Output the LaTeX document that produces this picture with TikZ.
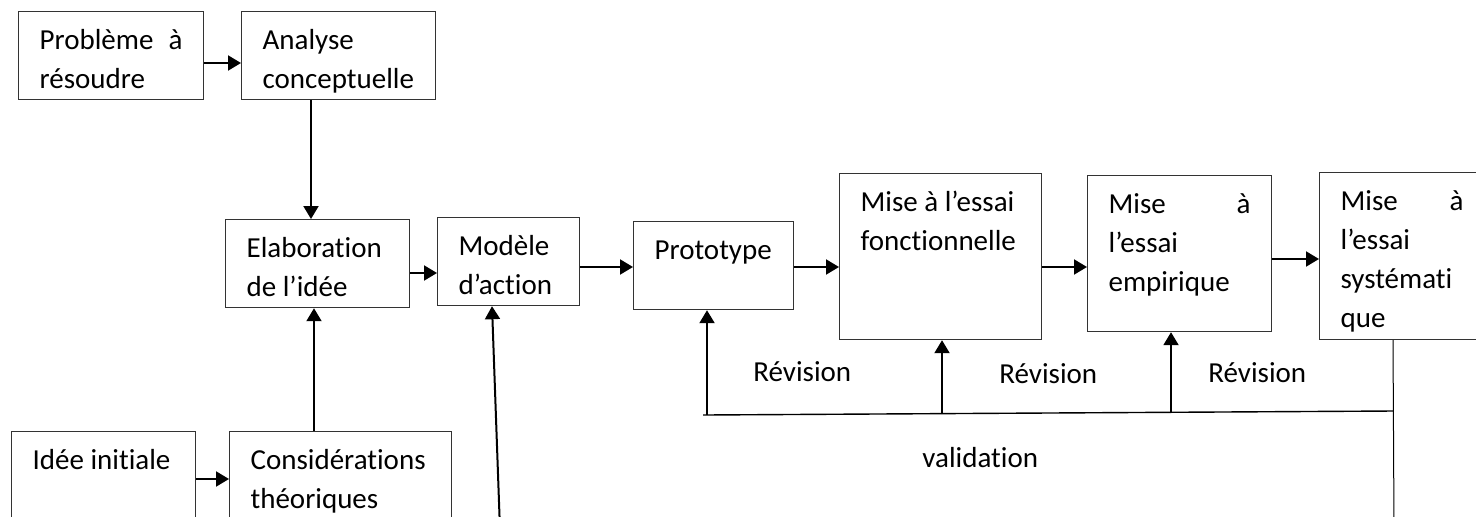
\documentclass[tikz,border=0pt]{standalone}
\usepackage{fontspec}
\setmainfont{Carlito}[Ligatures={NoCommon,NoContextual}]
\usetikzlibrary{arrows.meta}

\begin{document}
\begin{tikzpicture}[x=0.5pt, y=-0.5pt,
        box/.style={draw=black!80, line width=0.6pt, anchor=north west, align=flush left,
            inner xsep=10.5pt, inner ysep=0pt, text height=19pt,
            font=\fontsize{14.5}{19.4}\selectfont},
        lbl/.style={anchor=base west, inner sep=0pt, font=\fontsize{14.5}{19.4}\selectfont},
        >={Triangle[width=7.5pt,length=6.5pt]},
        arr/.style={->, line width=1pt},
        thin line/.style={line width=0.7pt}]
        \useasboundingbox (0,0) rectangle (1476,516);
        \clip (0,0) rectangle (1476,516);

        \node[box, text width=71.5pt, text depth=25pt] (probleme) at (18,11) {Problème \hfill à\\résoudre};
        \node[box, text width=76pt, text depth=25pt] (analyse) at (241,11) {Analyse\\conceptuelle};
        \node[box, text width=71pt, text depth=25pt] (elab) at (225,219) {Elaboration\\de l’idée};
        \node[box, text width=50pt, text depth=25pt] (modele) at (437,217) {Modèle\\d’action};
        \node[box, text width=59pt, text depth=25pt] (proto) at (633,221) {Prototype};
        \node[box, text width=80pt, text depth=64pt] (fonc) at (839,173) {Mise à l’essai\\fonctionnelle};
        \node[box, text width=71pt, text depth=59pt] (empir) at (1087,175) {Mise \hfill à\\l’essai\\empirique};
        \node[box, text width=61.5pt, text depth=64.5pt] (syst) at (1319,172) {Mise \hfill à\\l’essai\\systémati\\que};
        \node[box, text width=71pt, text depth=40pt] (idee) at (11,431) {Idée initiale};
        \node[box, text width=90pt, text depth=40pt] (theorie) at (229,431) {Considérations\\théoriques};

        \draw[arr] (probleme.east |- 0,63) -- (analyse.west |- 0,63);
        \draw[arr] (analyse.south -| 311,0) -- (elab.north -| 311,0);
        \draw[arr] (idee.east |- 0,479) -- (theorie.west |- 0,479);
        \draw[arr] (theorie.north -| 314,0) -- (elab.south -| 314,0);
        \draw[arr] (elab.east |- 0,273) -- (modele.west |- 0,273);
        \draw[arr] (modele.east |- 0,267) -- (proto.west |- 0,267);
        \draw[arr] (proto.east |- 0,267) -- (fonc.west |- 0,267);
        \draw[arr] (fonc.east |- 0,267) -- (empir.west |- 0,267);
        \draw[arr] (empir.east |- 0,259) -- (syst.west |- 0,259);

        % entree directe du modele d'action
        \coordinate (mfoot) at (500,530);
        \draw[arr] (mfoot) -- (modele.south -| 492,0);

        % boucle de revision
        \coordinate (vleft) at (703,415);
        \coordinate (corner) at (1393,411);
        \coordinate (vfoot) at (1394,530);
        \draw[thin line] (vleft) -- (corner);
        \draw[line width=0.5pt] (syst.south -| corner) -- (vfoot);
        \coordinate (r1) at (707,415);
        \coordinate (r2) at (942,414);
        \coordinate (r3) at (1171,412);
        \draw[arr] (r1) -- (proto.south -| r1);
        \draw[arr] (r2) -- (fonc.south -| r2);
        \draw[arr] (r3) -- (empir.south -| r3);

        \node[lbl] (rev1) at (753,381) {Révision};
        \node[lbl] (rev2) at (999,383) {Révision};
        \node[lbl] (rev3) at (1208,382) {Révision};
        \node[lbl] (valid) at (922,467) {validation};
    \end{tikzpicture}
\end{document}
